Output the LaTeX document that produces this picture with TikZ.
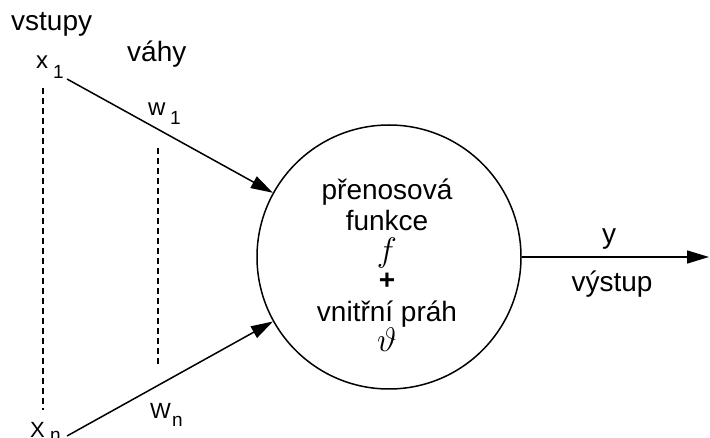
\RequirePackage{fix-cm}
\documentclass[tikz,border=0pt]{standalone}
\usepackage{fontspec}
\setmainfont{Liberation Sans}
\usetikzlibrary{arrows.meta}

\begin{document}
\begin{tikzpicture}[
  x=1pt, y=-1pt,
  word/.style={font=\fontsize{28}{30}\selectfont, inner sep=0pt, anchor=base west},
  var/.style={font=\fontsize{24}{28}\selectfont, inner sep=0pt, anchor=base west},
  idx/.style={font=\fontsize{19}{22}\selectfont, inner sep=0pt, anchor=base west},
  neuron/.style={circle, draw=black, line width=1.5pt, minimum size=264pt, inner sep=0pt},
  arrow/.style={-{Triangle[length=22pt,width=13pt]}, line width=1.5pt},
  guide/.style={dash pattern=on 6pt off 4pt, line width=1.5pt},
]
\useasboundingbox (0,0) rectangle (710,438);

% Neuron body
\node[neuron] (body) at (389,257) {};
\node[font=\fontsize{28}{30}\selectfont, align=center, inner sep=0pt, anchor=base]
  (func) at (387,352)
  {přenosová\\[1pt]funkce\\[1pt]{\fontsize{34}{30}\selectfont$f$}\\[-2pt]\textbf{+}\\[2pt]vnitřní práh\\{\fontsize{34}{30}\selectfont$\vartheta$}};

% Inputs and weights
\node[word] (inputs) at (11,31) {vstupy};
\node[word] (weights) at (127,62) {váhy};
\node[var] (x1) at (36,69) {x};
\node[idx] (x1i) at (53,79) {1};
\node[var] (w1) at (148,116) {w};
\node[idx] (w1i) at (170,125) {1};
\node[var, font=\fontsize{22}{26}\selectfont] (wn) at (150,418) {W};
\node[idx] (wni) at (172,427) {n};
\node[var, font=\fontsize{22}{26}\selectfont] (xn) at (30,437) {X};
\node[idx] (xni) at (50,442) {n};

\coordinate (in1) at (67,79);
\coordinate (inn) at (67,436);
\draw[arrow] (in1) -- (body);
\draw[arrow] (inn) -- (body);

% Dashed gaps between x_1..x_n and w_1..w_n
\draw[guide] (43,88) -- (43,410);
\draw[guide] (158,148) -- (158,365);

% Output
\coordinate (out) at (709,257);
\draw[arrow] (body.east) -- (out);
\node[word, anchor=base] (yout) at (609,244) {y};
\node[word, anchor=base] (outlabel) at (612,292) {výstup};

\end{tikzpicture}
\end{document}
